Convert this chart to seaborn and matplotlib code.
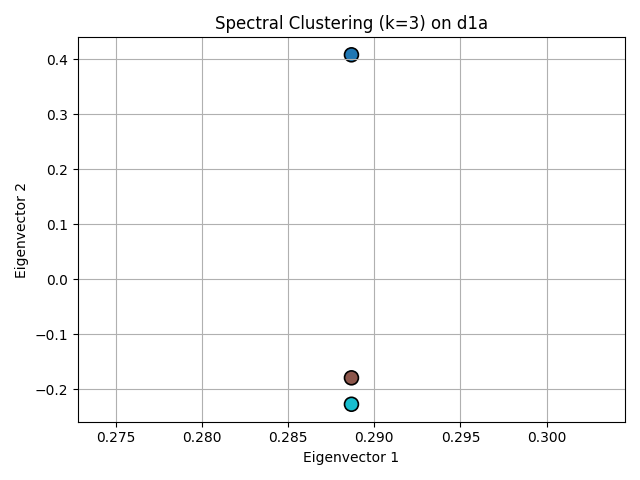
import numpy as np
import pandas as pd
import seaborn as sns
import matplotlib
matplotlib.use('Agg')
import matplotlib.pyplot as plt

eig1 = [0.288675, 0.288675, 0.288675]
eig2 = [0.408, -0.179, -0.227]
labels = [0, 1, 2]
colors = ['#1f77b4', '#8c564b', '#17becf']

df = pd.DataFrame({'Eigenvector 1': eig1, 'Eigenvector 2': eig2, 'cluster': labels})

fig, ax = plt.subplots(figsize=(6.4, 4.8), dpi=100)
sns.scatterplot(data=df, x='Eigenvector 1', y='Eigenvector 2', hue='cluster',
                palette=dict(zip(labels, colors)), s=100, edgecolor='black',
                linewidth=1.2, legend=False, ax=ax)
ax.set_title('Spectral Clustering (k=3) on d1a')
ax.grid(True)
plt.tight_layout()
plt.savefig('out.png')
